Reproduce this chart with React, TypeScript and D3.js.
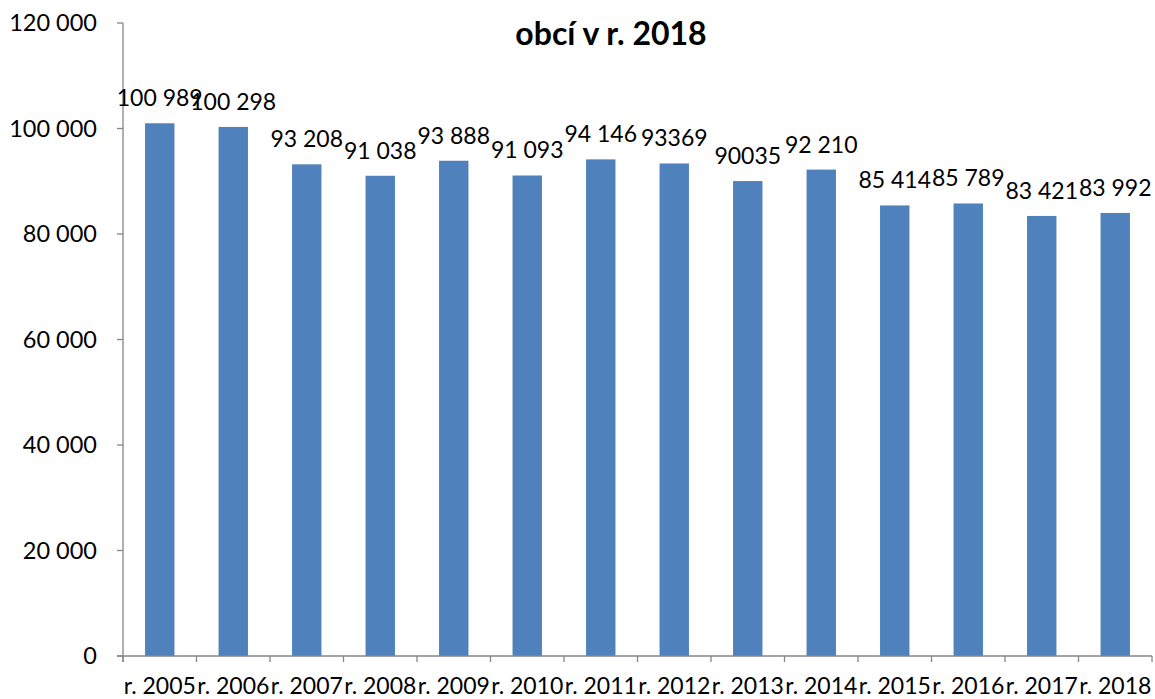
import React from "react";
import * as d3 from "d3";

const categories = ["r. 2005","r. 2006","r. 2007","r. 2008","r. 2009","r. 2010","r. 2011","r. 2012","r. 2013","r. 2014","r. 2015","r. 2016","r. 2017","r. 2018"];
const values = [100989,100298,93208,91038,93888,91093,94146,93369,90035,92210,85414,85789,83421,83992];
const valueLabels = ["100 989","100 298","93 208","91 038","93 888","91 093","94 146","93369","90035","92 210","85 414","85 789","83 421","83 992"];
const yTicks = [0,20000,40000,60000,80000,100000,120000];
const titleLine = "obcí v r. 2018";

const W = 1155, H = 699;
const M = { left: 123, right: 1152, top: 23, bottom: 656 };
const FONT = "Lato, 'Open Sans', sans-serif";
const AXIS = "#868686";

export default function App() {
  const x = d3.scaleBand<string>().domain(categories).range([M.left, M.right]).paddingInner(0.6).paddingOuter(0.3);
  const band = d3.scaleBand<string>().domain(categories).range([M.left, M.right]);
  const y = d3.scaleLinear().domain([0, 120000]).range([M.bottom, M.top]);
  const fmt = (v: number) => d3.format(",")(v).replace(/,/g, " ");
  return (
    <svg width={W} height={H} style={{ position: "absolute", left: 0, top: 0, background: "#fff" }} fontFamily={FONT}>
      <rect x={0} y={0} width={W} height={H} fill="#fff" />
      <text x={611} y={45} textAnchor="middle" fontWeight="bold" fontSize={32}>{titleLine}</text>
      {values.map((v, i) => (
        <rect key={i} x={x(categories[i])} y={y(v)} width={x.bandwidth()} height={y(0) - y(v)} fill="#4F81BD" />
      ))}
      <line x1={M.left} x2={M.left} y1={M.top} y2={M.bottom + 6} stroke={AXIS} strokeWidth={1.3} />
      <line x1={M.left - 6} x2={M.right} y1={M.bottom} y2={M.bottom} stroke={AXIS} strokeWidth={1.3} />
      {yTicks.map((t) => (
        <g key={t}>
          <line x1={M.left - 6} x2={M.left} y1={y(t)} y2={y(t)} stroke={AXIS} strokeWidth={1.3} />
          <text x={97} y={y(t)} dy="0.36em" textAnchor="end" fontSize={23.5}>{fmt(t)}</text>
        </g>
      ))}
      {[...categories.map((c) => band(c) as number), M.right].map((tx, i) => (
        <line key={i} x1={tx} x2={tx} y1={M.bottom} y2={M.bottom + 6} stroke={AXIS} strokeWidth={1.3} />
      ))}
      {categories.map((c) => (
        <text key={c} x={(band(c) as number) + band.bandwidth() / 2} y={694} textAnchor="middle" fontSize={23}>{c}</text>
      ))}
      {values.map((v, i) => (
        <text key={i} x={(x(categories[i]) as number) + x.bandwidth() / 2} y={y(v) - 17} textAnchor="middle" fontSize={23}>{valueLabels[i]}</text>
      ))}
    </svg>
  );
}
